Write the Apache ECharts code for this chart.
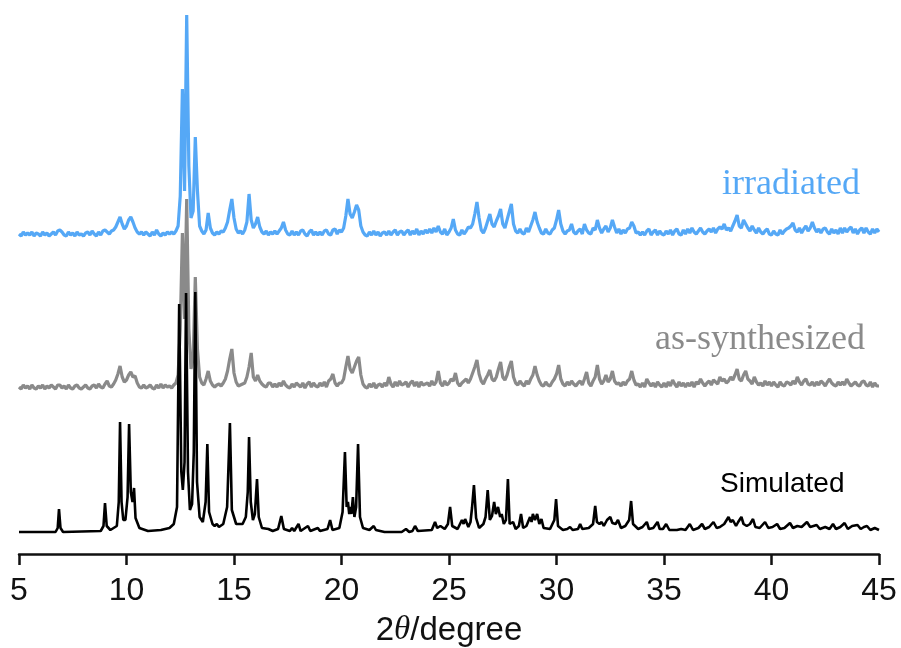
<!DOCTYPE html>
<html>
<head>
<meta charset="utf-8">
<title>PXRD patterns</title>
<script src="https://cdn.jsdelivr.net/npm/echarts@6/dist/echarts.min.js"></script>
<style>
  html, body { margin: 0; padding: 0; background: #fff; }
  #main { width: 901px; height: 648px; }
</style>
</head>
<body>
<div id="main"></div>
<script>
// 2theta axis
var xMin = 5, xMax = 45, xStep = 0.1;
var xTicks = [5, 10, 15, 20, 25, 30, 35, 40, 45];

// irradiated, intensity every 0.1 deg from 5 to 45 (a.u.)
var irradiated = [
  2,0,4,1,3,1,4,0,3,2,
  0,4,1,3,0,2,4,1,5,6,
  4,1,0,4,1,3,0,4,1,2,
  0,3,4,1,5,2,0,4,1,5,
  6,4,2,5,6,9,14,19,12,7,
  10,16,19,14,8,4,2,4,1,4,
  2,0,4,1,6,2,0,3,1,4,
  2,4,2,5,10,40,147,45,221,70,
  18,25,99,45,10,5,2,6,23,8,
  3,1,4,2,5,4,8,14,26,37,
  18,7,3,5,2,6,14,42,16,8,
  12,19,9,4,2,5,1,4,2,5,
  2,5,8,14,6,2,1,5,1,4,
  1,5,6,2,0,4,6,1,4,1,
  4,1,5,6,2,1,6,7,2,6,
  4,8,20,37,22,18,24,31,26,10,
  4,1,0,4,1,5,1,4,0,3,
  4,1,5,1,4,6,1,4,5,1,
  4,6,1,5,2,7,1,5,2,6,
  3,7,3,8,4,10,4,2,7,1,
  4,8,17,6,2,1,6,2,5,9,
  8,12,22,34,18,6,3,8,15,22,
  12,9,15,20,27,12,8,16,24,32,
  12,5,3,7,3,2,8,4,10,16,
  24,14,8,3,2,7,3,2,6,8,
  16,26,12,5,2,5,6,12,4,2,
  5,7,2,12,6,3,2,8,6,16,
  8,3,7,10,4,8,16,9,3,7,
  2,6,3,7,8,14,10,3,4,1,
  4,1,5,7,1,4,6,1,5,2,
  1,5,2,6,1,5,7,2,1,6,
  2,7,3,8,4,2,5,8,4,2,
  5,7,4,8,3,7,9,7,12,6,
  8,5,10,15,21,10,8,16,12,8,
  5,10,6,3,8,4,2,5,7,2,
  1,5,2,1,6,2,5,7,8,10,
  13,6,4,8,3,7,10,5,8,14,
  8,4,7,3,7,8,4,2,7,3,
  6,2,8,3,8,4,7,9,3,7,
  2,6,8,3,8,4,2,7,3,7,
  4
];

// as-synthesized, same sampling
var asSynthesized = [
  2,0,4,1,3,0,4,1,0,3,
  1,4,0,3,1,4,2,0,4,4,
  1,3,0,4,1,0,3,4,1,0,
  2,4,1,0,3,4,1,5,2,1,
  5,8,3,2,5,9,15,23,12,7,
  9,14,17,12,13,6,2,1,4,1,
  2,4,1,0,4,1,5,1,4,2,
  3,1,4,6,14,60,156,70,190,60,
  20,30,112,40,12,6,4,10,18,8,
  4,2,4,5,3,6,10,18,30,40,
  16,7,3,4,5,6,12,22,36,12,
  8,14,8,5,3,2,6,6,2,5,
  2,6,3,8,4,2,1,5,2,6,
  4,2,6,1,5,7,2,6,3,2,
  6,3,7,2,8,10,15,6,3,6,
  6,10,22,33,20,16,22,28,32,14,
  5,2,1,5,2,6,1,4,5,2,
  6,3,12,5,2,7,3,8,4,5,
  7,2,6,8,3,7,2,7,4,5,
  6,3,8,4,7,18,6,3,8,4,
  6,10,8,16,6,3,6,8,10,6,
  10,16,22,29,15,8,5,10,14,19,
  10,8,12,20,27,12,9,14,22,28,
  12,6,4,8,5,3,8,5,10,14,
  23,14,8,4,3,7,4,3,7,10,
  15,24,10,5,3,7,4,8,5,3,
  6,8,4,10,17,6,3,8,12,24,
  10,5,8,14,7,10,18,8,5,6,
  3,7,4,8,10,18,9,4,5,2,
  6,2,10,6,3,6,2,7,4,2,
  6,2,7,3,9,5,2,7,3,6,
  2,6,3,7,2,7,5,10,6,3,
  6,8,4,9,7,5,12,8,10,6,
  8,12,9,14,20,10,8,14,18,10,
  8,5,12,7,4,6,3,8,4,7,
  3,7,4,2,7,4,3,7,6,4,
  8,5,12,7,4,8,10,5,4,7,
  3,7,4,8,6,3,7,10,6,4,
  3,7,4,7,4,10,6,3,5,7,
  4,3,7,8,4,3,7,2,6,3,
  3
];

// simulated pattern, [2theta, intensity]
var simulated = [
  [5,0],[6.7,0],[6.8,4],[6.86,23],[6.93,4],[7.05,0],
  [8.8,1],[8.93,6],[9.0,29],[9.08,6],[9.25,2],
  [9.55,6],[9.64,30],[9.7,110],[9.77,30],[9.85,12],[9.95,12],[10.05,35],[10.12,108],[10.2,40],[10.28,30],[10.35,44],[10.42,14],[10.6,4],
  [11.0,1],[11.6,2],[12.0,4],[12.2,8],[12.35,25],[12.45,228],[12.55,60],[12.62,42],[12.7,70],[12.77,239],[12.86,60],[12.95,22],[13.05,28],[13.13,80],[13.2,240],[13.28,50],[13.4,15],
  [13.55,10],[13.68,30],[13.76,88],[13.84,20],[14.0,8],[14.1,6],[14.2,8],[14.3,5],[14.5,8],[14.68,25],[14.81,109],[14.9,22],[15.1,8],
  [15.4,8],[15.55,15],[15.64,40],[15.7,95],[15.78,30],[15.88,12],[15.97,18],[16.07,53],[16.15,15],[16.3,4],[16.6,3],[16.8,1],
  [17.05,3],[17.2,16],[17.32,3],[17.6,1],[17.7,4],[17.8,1],[18.0,8],[18.1,1],[18.44,6],[18.55,1],[18.9,4],[19.0,1],[19.35,3],[19.47,12],[19.58,2],
  [19.9,4],[20.05,20],[20.16,80],[20.24,25],[20.3,30],[20.36,18],[20.42,25],[20.46,18],[20.53,35],[20.6,15],[20.68,25],[20.77,88],[20.86,15],[21.0,4],
  [21.3,2],[21.5,6],[21.6,2],[22.0,0],[22.8,0],[23.0,3],[23.15,0],[23.3,1],[23.42,6],[23.55,1],
  [24.2,2],[24.35,10],[24.45,4],[24.6,6],[24.8,3],[24.95,8],[25.05,25],[25.15,6],[25.4,3],[25.6,12],[25.68,8],[25.75,13],[25.9,5],
  [26.0,10],[26.07,24],[26.16,47],[26.26,14],[26.4,4],[26.6,8],[26.7,15],[26.8,42],[26.9,12],[27.0,16],[27.1,30],[27.18,18],[27.28,25],[27.38,15],[27.45,18],[27.55,8],[27.65,12],[27.74,53],[27.82,8],[27.98,10],
  [28.1,3],[28.25,6],[28.35,18],[28.45,4],[28.6,6],[28.77,15],[28.84,10],[28.9,18],[29.0,12],[29.1,18],[29.2,8],[29.3,13],[29.4,4],
  [29.7,3],[29.9,12],[29.98,33],[30.07,6],[30.3,2],[30.5,3],[30.63,5],[30.75,2],[31.0,3],[31.1,8],[31.2,3],[31.5,4],[31.7,8],[31.8,26],[31.88,10],
  [32.0,8],[32.1,10],[32.2,6],[32.35,12],[32.5,15],[32.6,9],[32.75,8],[32.86,12],[33.0,4],[33.2,6],[33.38,12],[33.47,31],[33.56,8],[33.8,3],
  [34.0,5],[34.2,10],[34.3,3],[34.5,4],[34.7,10],[34.8,3],[34.95,3],[35.1,8],[35.25,2],[35.6,2],[35.8,3],[36.0,2],[36.2,8],[36.35,2],[36.6,4],[36.77,8],[36.9,3],
  [37.1,5],[37.3,10],[37.45,4],[37.6,5],[37.8,8],[38.0,15],[38.1,10],[38.2,12],[38.35,6],[38.45,10],[38.6,15],[38.7,8],[38.85,6],[39.0,8],[39.14,13],[39.25,5],[39.45,4],[39.7,10],[39.85,4],
  [40.05,5],[40.26,8],[40.4,3],[40.6,4],[40.86,9],[41.0,4],[41.2,6],[41.4,5],[41.65,10],[41.8,5],[41.95,6],[42.1,7],[42.25,3],[42.5,5],[42.7,3],[42.86,8],[43.0,3],
  [43.2,5],[43.4,9],[43.55,3],[43.75,6],[44.0,7],[44.15,3],[44.3,5],[44.44,6],[44.6,2],[44.8,4],[45.0,2]
];

// vertical offsets used to stack the patterns
var offsets = { simulated: 22, asSynthesized: 165, irradiated: 318 };

function stepped(values, offset) {
  return values.map(function (v, i) {
    return [+(xMin + i * xStep).toFixed(1), v + offset];
  });
}
function shifted(pairs, offset) {
  return pairs.map(function (p) { return [p[0], p[1] + offset]; });
}

var chart = echarts.init(document.getElementById('main'));

var option = {
  animation: false,
  backgroundColor: '#fff',
  grid: { left: 19, right: 22, top: 0, bottom: 94, outerBoundsMode: 'none', containLabel: false },
  xAxis: {
    type: 'value',
    min: xMin,
    max: xMax,
    interval: 5,
    name: '2{i|θ}/degree',
    nameLocation: 'middle',
    nameGap: 60,
    nameTextStyle: {
      fontFamily: 'Liberation Sans, Arial',
      fontSize: 33,
      color: '#111',
      rich: { i: { fontFamily: 'Liberation Serif, serif', fontStyle: 'italic', fontSize: 33, color: '#111' } }
    },
    axisLine: { show: true, onZero: false, lineStyle: { color: '#111', width: 2.5 } },
    axisTick: { show: true, inside: false, length: 11, lineStyle: { color: '#111', width: 2.5 } },
    axisLabel: {
      fontFamily: 'Liberation Sans, Arial',
      fontSize: 32,
      color: '#111',
      margin: 21,
      formatter: function (v) { return xTicks.indexOf(v) >= 0 ? String(v) : ''; }
    },
    splitLine: { show: false }
  },
  yAxis: {
    type: 'value',
    min: 0,
    max: 554,
    show: false
  },
  series: [
    {
      name: 'as-synthesized',
      type: 'line',
      data: stepped(asSynthesized, offsets.asSynthesized),
      showSymbol: false,
      lineStyle: { color: '#8a8a8a', width: 3.2 },
      z: 2
    },
    {
      name: 'Simulated',
      type: 'line',
      data: shifted(simulated, offsets.simulated),
      showSymbol: false,
      lineStyle: { color: '#000', width: 2.6 },
      z: 3
    },
    {
      name: 'irradiated',
      type: 'line',
      data: stepped(irradiated, offsets.irradiated),
      showSymbol: false,
      lineStyle: { color: '#55a8f6', width: 3.2 },
      z: 4
    }
  ],
  graphic: [
    { type: 'text', left: 722, top: 167, z: 10,
      style: { text: 'irradiated', fill: '#55a8f6', font: '36px "Liberation Serif", serif' } },
    { type: 'text', left: 655, top: 322, z: 10,
      style: { text: 'as-synthesized', fill: '#8a8a8a', font: '36px "Liberation Serif", serif' } },
    { type: 'text', left: 720, top: 470, z: 10,
      style: { text: 'Simulated', fill: '#000', font: '28px "Liberation Sans", Arial' } }
  ]
};

chart.setOption(option);
</script>
</body>
</html>
